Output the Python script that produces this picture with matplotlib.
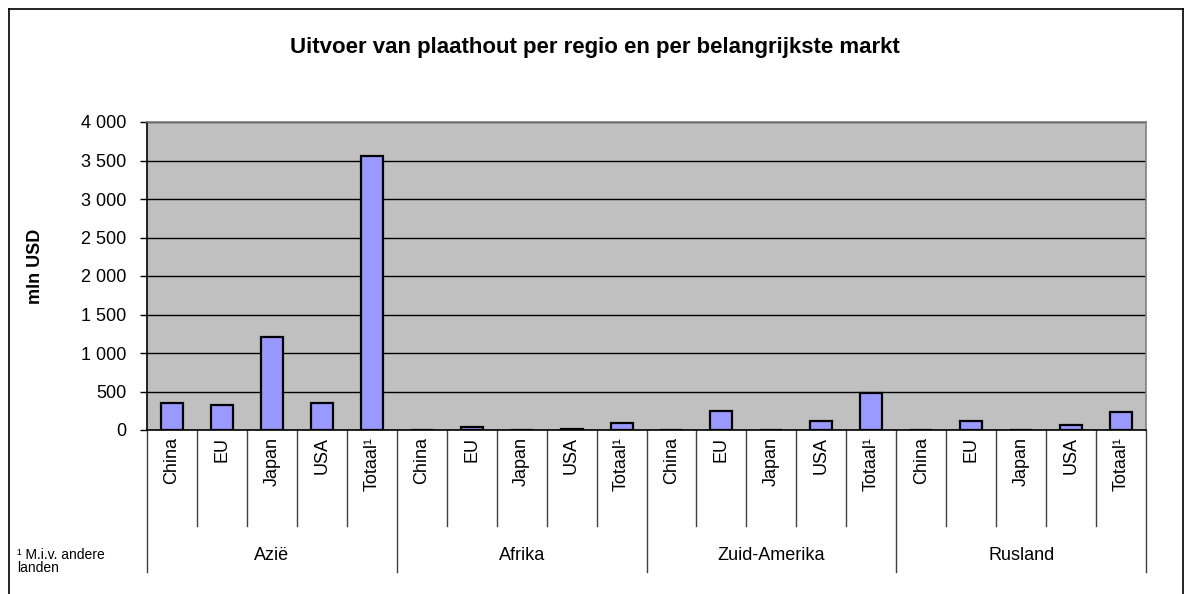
import matplotlib
matplotlib.use("Agg")
import matplotlib.pyplot as plt
from matplotlib.lines import Line2D
from matplotlib.ticker import FuncFormatter

plt.rcParams['font.family'] = ['Liberation Sans', 'DejaVu Sans']

regions = ["Azië", "Afrika", "Zuid-Amerika", "Rusland"]
markets = ["China", "EU", "Japan", "USA", "Totaal¹"]
values = {
    "Azië":         [346, 329, 1212, 346, 3563],
    "Afrika":       [0, 35, 0, 12, 95],
    "Zuid-Amerika": [0, 250, 6, 113, 484],
    "Rusland":      [0, 113, 0, 69, 234],
}
yticks = [0, 500, 1000, 1500, 2000, 2500, 3000, 3500, 4000]

W, H = 1187, 594
fig = plt.figure(figsize=(W / 100, H / 100), dpi=100)
fig.patch.set_facecolor("white")

x0, x1, ytop, ybot = 147, 1146, 122, 430
ax = fig.add_axes([x0 / W, 1 - ybot / H, (x1 - x0) / W, (ybot - ytop) / H])
ax.set_facecolor("#C0C0C0")

n = len(markets)
xs, hs = [], []
for gi, r in enumerate(regions):
    for mi, v in enumerate(values[r]):
        xs.append(gi * n + mi)
        hs.append(v)
ax.bar(xs, hs, width=0.44, color="#9999FF", edgecolor="black", linewidth=1.6, zorder=3)

ax.set_xlim(-0.5, len(regions) * n - 0.5)
ax.set_ylim(0, 4000)
ax.set_yticks(yticks)
ax.yaxis.set_major_formatter(FuncFormatter(lambda v, p: f"{int(v):,}".replace(",", " ")))
ax.tick_params(axis="y", direction="out", length=5, width=1, labelsize=13, pad=10)
ax.set_xticks([])
ax.grid(axis="y", color="black", linewidth=1, zorder=1)
ax.set_axisbelow(True)
for s in ["top", "right"]:
    ax.spines[s].set_color("#808080")
    ax.spines[s].set_linewidth(1.2)
for s in ["left", "bottom"]:
    ax.spines[s].set_color("black")
    ax.spines[s].set_linewidth(1.2)

tr = ax.get_xaxis_transform()
ph = ybot - ytop
y_cat = -(526 - ybot) / ph
y_grp = -(572 - ybot) / ph
y_lab = -(437 - ybot) / ph
y_glab = -(555 - ybot) / ph

for gi, r in enumerate(regions):
    for mi, m in enumerate(markets):
        xi = gi * n + mi
        ax.text(xi, y_lab, m, transform=tr, rotation=90, ha="center", va="top",
                fontsize=13, clip_on=False)
        if mi > 0:
            ax.plot([xi - 0.5, xi - 0.5], [0, y_cat], transform=tr, color="#404040",
                    linewidth=1, clip_on=False)
    ax.text(gi * n + (n - 1) / 2, y_glab, r, transform=tr, ha="center", va="center",
            fontsize=13, clip_on=False)
for gi in range(len(regions) + 1):
    xb = gi * n - 0.5
    ax.plot([xb, xb], [0, y_grp], transform=tr, color="#404040", linewidth=1, clip_on=False)

fig.text(595 / W, 1 - 47 / H, "Uitvoer van plaathout per regio en per belangrijkste markt",
         ha="center", va="center", fontsize=16, fontweight="bold")
fig.text(35 / W, 1 - 266 / H, "mln USD", rotation=90, ha="center", va="center",
         fontsize=13, fontweight="bold")
fig.text(17 / W, 1 - 561.5 / H, "¹ M.i.v. andere\nlanden", ha="left", va="center",
         fontsize=10, linespacing=0.95)

def px(x, y):
    return (x / W, 1 - y / H)

for (a, b) in [((8.5, 8.5), (1182.5, 8.5)), ((8.5, 8.5), (8.5, 600)),
               ((1182.5, 8.5), (1182.5, 600))]:
    p, q = px(*a), px(*b)
    fig.add_artist(Line2D([p[0], q[0]], [p[1], q[1]], transform=fig.transFigure,
                          color="black", linewidth=1.2))

fig.savefig("out.png", dpi=100)
